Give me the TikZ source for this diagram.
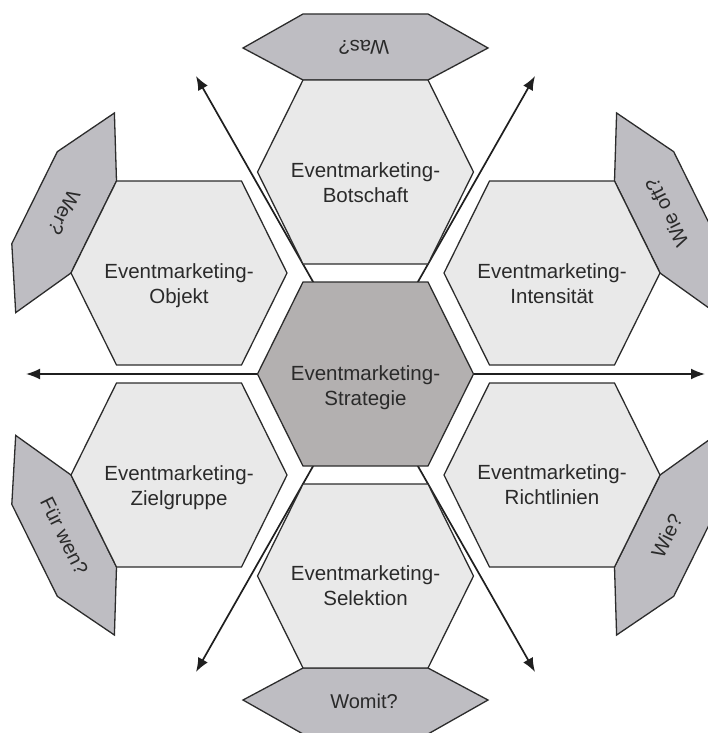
\documentclass[tikz,border=0pt]{standalone}
\usepackage{fontspec}
\setmainfont{Liberation Sans}
\usetikzlibrary{arrows.meta}

\definecolor{cellfill}{HTML}{E9E9E9}
\definecolor{corefill}{HTML}{B3B0B0}
\definecolor{tabfill}{HTML}{BEBDC2}
\definecolor{edgeline}{HTML}{2C2C2C}
\definecolor{inkgray}{HTML}{2A2A2A}

\begin{document}
\begin{tikzpicture}[x=1pt,y=-1pt,
  cell/.style={fill=cellfill,draw=edgeline,line width=1.3pt},
  core/.style={fill=corefill,draw=edgeline,line width=1.3pt},
  tab/.style={fill=tabfill,draw=edgeline,line width=1.3pt},
  celltext/.style={align=center,font=\fontsize{20.5}{25}\selectfont,text=inkgray,inner sep=0pt},
  tabtext/.style={font=\fontsize{20}{24}\selectfont,text=inkgray,inner sep=0pt},
  axis/.style={line width=1.7pt,draw=black!88,
    {Latex[length=14pt,width=11pt]}-{Latex[length=14pt,width=11pt]}},
  pics/hexcell/.style={code={
    \path[pic actions] (108,0) -- (62.5,-92) -- (-62.5,-92) -- (-108,0)
      -- (-62.5,92) -- (62.5,92) -- cycle;}}
]
\useasboundingbox (0,0) rectangle (708,733);
\clip (0,0) rectangle (708,733);

% cell centres
\coordinate (cS) at (365.5,374);
\coordinate (cB) at (365.5,172);
\coordinate (cSe) at (365.5,576);
\coordinate (cO) at (179,273);
\coordinate (cZ) at (179,475);
\coordinate (cI) at (552,273);
\coordinate (cR) at (552,475);

% ends of the three axes
\coordinate (axL) at (26,374);
\coordinate (axR) at (705,374);
\coordinate (axUL) at (196,76);
\coordinate (axLR) at (535,672);
\coordinate (axUR) at (535,76);
\coordinate (axLL) at (196,672);

\draw[axis] (axL) -- (axR);
\draw[axis] (axUL) -- (axLR);
\draw[axis] (axUR) -- (axLL);

% question tabs on the outer edges
\draw[tab] (303,80) -- (243,48) -- (303,14) -- (428,14) -- (488,48) -- (428,80) -- cycle;
\draw[tab] (303,668) -- (243,700) -- (303,734) -- (428,734) -- (488,700) -- (428,668) -- cycle;
\draw[tab] (71,273) -- (15.7,312.6) -- (11.8,243.7) -- (57.3,151.7) -- (114.4,113) -- (116.5,181) -- cycle;
\draw[tab] (660,273) -- (715.3,312.6) -- (719.2,243.7) -- (673.7,151.7) -- (616.6,113) -- (614.5,181) -- cycle;
\draw[tab] (71,475) -- (15.7,435.4) -- (11.8,504.3) -- (57.3,596.3) -- (114.4,635) -- (116.5,567) -- cycle;
\draw[tab] (660,475) -- (715.3,435.4) -- (719.2,504.3) -- (673.7,596.3) -- (616.6,635) -- (614.5,567) -- cycle;

% hexagonal cells
\pic[cell] at (cB) {hexcell};
\pic[cell] at (cSe) {hexcell};
\pic[cell] at (cO) {hexcell};
\pic[cell] at (cZ) {hexcell};
\pic[cell] at (cI) {hexcell};
\pic[cell] at (cR) {hexcell};
\pic[core] at (cS) {hexcell};

% cell labels
\node[celltext] (tS) at ([yshift=-14]cS) {Eventmarketing-\strut\\Strategie\strut};
\node[celltext] (tB) at ([yshift=-13]cB) {Eventmarketing-\strut\\Botschaft\strut};
\node[celltext] (tSe) at ([yshift=-12]cSe) {Eventmarketing-\strut\\Selektion\strut};
\node[celltext] (tO) at ([yshift=-13]cO) {Eventmarketing-\strut\\Objekt\strut};
\node[celltext] (tZ) at ([yshift=-13]cZ) {Eventmarketing-\strut\\Zielgruppe\strut};
\node[celltext] (tI) at ([yshift=-13]cI) {Eventmarketing-\strut\\Intensität\strut};
\node[celltext] (tR) at ([yshift=-12]cR) {Eventmarketing-\strut\\Richtlinien\strut};

% tab labels
\node[tabtext, rotate=180] (qWas) at (364,47) {Was?};
\node[tabtext] (qWomit) at (364,701) {Womit?};
\node[tabtext, rotate=-116.3] (qWer) at (64.2,212.4) {Wer?};
\node[tabtext, rotate=116.3] (qOft) at (666.8,212.4) {Wie oft?};
\node[tabtext, rotate=-63.7] (qFuer) at (64.2,535.6) {Für wen?};
\node[tabtext, rotate=63.7] (qWie) at (666.8,535.6) {Wie?};
\end{tikzpicture}
\end{document}
